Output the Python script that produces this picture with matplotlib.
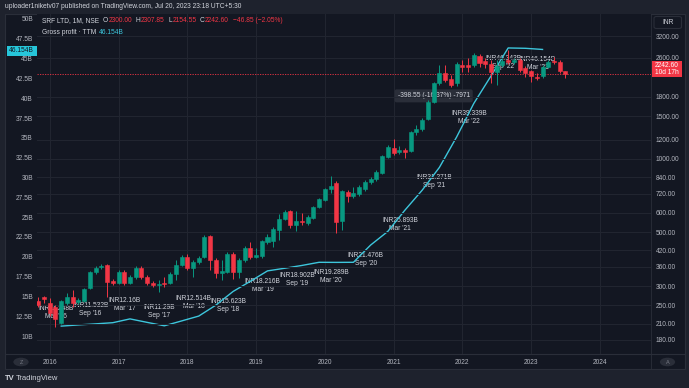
import numpy as np
import pandas as pd
import matplotlib
matplotlib.use('Agg')
import matplotlib.pyplot as plt
from matplotlib.patches import Rectangle, FancyBboxPatch, Circle
from matplotlib.ticker import FixedLocator, NullLocator
from matplotlib.lines import Line2D

plt.rcParams['font.family'] = ['Liberation Sans Narrow', 'Liberation Sans', 'DejaVu Sans']

# monthly candles, SRF LTD (NSE), Nov 2015 .. Jul 2023
months = pd.period_range('2015-11', '2023-07', freq='M')
opens = [261, 271, 256, 246, 211, 256, 270, 258, 261, 294, 342, 359, 366, 315, 309, 342,
         309, 327, 356, 327, 309, 303, 309, 309, 336, 366, 395, 356, 377, 395, 481, 384,
         339, 342, 406, 342, 384, 430, 395, 398, 455, 460, 510, 565, 610, 534, 555, 545,
         570, 634, 677, 751, 796, 555, 730, 703, 717, 751, 803, 826, 875, 1018, 1108, 1067,
         1087, 1077, 1289, 1326, 1457, 1714, 2049, 2255, 2129, 2049, 2431, 2431, 2431, 2648,
         2526, 2454, 2276, 2431, 2549, 2503, 2549, 2362, 2298, 2170, 2190, 2385, 2526, 2503,
         2300.00]
highs = [271, 273, 268, 251, 263, 281, 289, 268, 294, 346, 362, 369, 369, 321, 349, 349,
         333, 363, 363, 333, 315, 318, 327, 342, 384, 402, 406, 384, 398, 486, 486, 391,
         384, 414, 414, 391, 438, 455, 430, 464, 491, 525, 592, 616, 616, 610, 598, 587,
         640, 690, 758, 850, 810, 744, 744, 767, 781, 818, 842, 900, 1037, 1140, 1206, 1129,
         1108, 1301, 1377, 1471, 1746, 2069, 2431, 2431, 2211, 2503, 2549, 2597, 2723, 2698,
         2597, 2549, 2549, 2597, 2803, 2597, 2597, 2408, 2319, 2255, 2431, 2549, 2622, 2549,
         2307.85]
lows = [246, 256, 226, 203, 209, 251, 246, 253, 258, 292, 336, 352, 271, 303, 306, 303,
        306, 321, 321, 303, 298, 284, 298, 306, 318, 363, 349, 327, 369, 391, 349, 324,
        318, 339, 321, 324, 377, 388, 391, 391, 446, 434, 464, 560, 520, 505, 534, 534,
        565, 628, 670, 724, 495, 510, 664, 690, 703, 737, 788, 810, 866, 1008, 1037, 1047,
        1008, 1067, 1253, 1301, 1444, 1700, 2011, 2069, 1973, 1992, 2276, 2276, 2385, 2385,
        2362, 2049, 2011, 2385, 2454, 2454, 2276, 2170, 2069, 2109, 2150, 2362, 2454, 2255,
        2154.55]
closes = [251, 265, 233, 219, 261, 270, 256, 263, 292, 342, 356, 362, 312, 309, 342, 309,
          327, 356, 327, 309, 303, 306, 306, 336, 366, 395, 356, 377, 391, 477, 384, 339,
          346, 406, 342, 384, 430, 395, 402, 460, 477, 515, 565, 604, 534, 555, 550, 576,
          634, 683, 751, 774, 550, 737, 703, 724, 767, 803, 826, 883, 1027, 1118, 1057, 1087,
          1067, 1289, 1326, 1444, 1714, 2049, 2255, 2109, 2011, 2454, 2385, 2385, 2673, 2480,
          2454, 2276, 2408, 2526, 2503, 2549, 2319, 2255, 2190, 2150, 2385, 2503, 2503, 2289.45,
          2242.60]

# gross profit TTM (INR billions), quarterly
gp_dates = pd.date_range('2016-03-01', '2023-03-01', freq='3MS')
gp_values = [11.248, 11.40, 11.532, 11.68, 12.16, 11.72, 11.29, 11.90, 12.514, 13.90,
             15.623, 16.90, 18.216, 18.55, 18.902, 19.30, 19.289, 19.30, 21.476, 23.20,
             25.893, 28.40, 31.271, 35.10, 39.339, 42.80, 46.343, 46.30, 46.154]

year_labels = ['2016', '2017', '2018', '2019', '2020', '2021', '2022', '2023', '2024']
price_ticks = [180, 210, 250, 300, 360, 420, 500, 600, 720, 840, 1000, 1200, 1500, 1800, 2600, 3200]
gp_ticks = [10, 12.5, 15, 17.5, 20, 22.5, 25, 27.5, 30, 32.5, 35, 37.5, 40, 42.5, 45, 47.5, 50]

W, H = 689, 388
BG = '#1e222d'
PANEL = '#131722'
BORDER = '#2a2e39'
TXT = '#b2b5be'
UP = '#089981'
DOWN = '#f23645'
CYAN = '#3dc6dc'
GRID = '#222631'
FS = 4.8


def fx(x):
    return x / W


def fy(y):
    return 1 - y / H


def month_x(p):
    return (p.year - 2016) * 12 + (p.month - 1)


fig = plt.figure(figsize=(W / 100, H / 100), dpi=100, facecolor=BG)
renderer = fig.canvas.get_renderer()

# panel background
fig.add_artist(Rectangle((fx(4.5), fy(369)), fx(680), (369 - 13.5) / H, transform=fig.transFigure,
                         facecolor=PANEL, edgecolor=BORDER, lw=0.8, zorder=-2))

ax = fig.add_axes([fx(37), fy(354), fx(651 - 37), (354 - 13.5) / H])
ax.set_facecolor(PANEL)
axp = ax.twinx()

x_c = np.array([month_x(p) for p in months])
o = np.array(opens)
h = np.array(highs)
l = np.array(lows)
c = np.array(closes)
cols = np.where(c >= o, UP, DOWN)

axp.set_yscale('log')
axp.vlines(x_c, l, h, colors=cols, lw=0.7, zorder=3)
axp.bar(x_c, np.abs(c - o), bottom=np.minimum(o, c), width=0.7, color=cols, edgecolor=cols,
        linewidth=0.4, zorder=4)
axp.axhline(closes[-1], color=DOWN, ls=(0, (1.5, 1.5)), lw=0.6, zorder=2)

# gross profit line + labels
x_g = np.array([(d.year - 2016) * 12 + d.month - 1 for d in gp_dates])
ax.plot(x_g, gp_values, color=CYAN, lw=1.0, zorder=3)
for k in range(0, len(gp_values), 2):
    v = gp_values[k]
    s = ('%.3f' % v).rstrip('0')
    lab = 'INR%sB\n%s' % (s, gp_dates[k].strftime("%b '%y"))
    dy = 10.1 if k <= 8 else -10.4
    ax.annotate(lab, (x_g[k], v), xytext=(-3.6, dy), textcoords='offset points', ha='center',
                va='center', fontsize=FS, color='#d1d4dc', linespacing=1.2, zorder=2)

# measure box
ax.text(month_x(pd.Period('2021-07', 'M')) + 1.0, 40.3, '-398.55 (-16.37%) -7971',
        fontsize=FS, color='#d1d4dc', ha='center', va='center', zorder=1,
        bbox=dict(boxstyle='round,pad=0.45,rounding_size=0.3', fc='#2a2e39', ec='none'))

# limits
ax.set_xlim(-2.227, 104.93)
ax.set_ylim(7.73, 50.69)
axp.set_ylim(157.6, 3960)

# ticks
ax.set_xticks(range(0, 97, 12))
ax.set_xticklabels(year_labels)
ax.set_yticks(gp_ticks)
ax.set_yticklabels(['%gB' % v for v in gp_ticks])
axp.yaxis.set_major_locator(FixedLocator(price_ticks))
axp.yaxis.set_minor_locator(NullLocator())
axp.set_yticklabels(['%.2f' % v for v in price_ticks])
ax.tick_params(axis='x', length=0, pad=3.6, labelsize=FS, colors=TXT)
ax.tick_params(axis='y', length=0, pad=2.9, labelsize=FS, colors=TXT)
axp.tick_params(axis='y', length=0, pad=3.6, labelsize=FS, colors=TXT)
for lab in axp.get_yticklabels():
    lab.set_ha('left')

ax.grid(axis='x', color=GRID, lw=0.7)
axp.grid(axis='y', color=GRID, lw=0.7)
ax.set_axisbelow(True)
axp.set_axisbelow(True)
for a in (ax, axp):
    for sp in a.spines.values():
        sp.set_visible(False)

# separators
fig.add_artist(Line2D([fx(4.5), fx(684.5)], [fy(354), fy(354)], color=BORDER, lw=0.8))
fig.add_artist(Line2D([fx(651), fx(651)], [fy(13.5), fy(369)], color=BORDER, lw=0.6))

# header
fig.text(fx(5), fy(7), 'uploader1niketv07 published on TradingView.com, Jul 20, 2023 23:18 UTC+5:30',
         fontsize=FS, color='#d1d4dc', va='center')


def chain(x, y, parts):
    # draw text pieces one after another, starting at pixel x
    for t, cc, gap in parts:
        tt = fig.text(fx(x), fy(y), t, fontsize=FS, color=cc, va='center')
        x = tt.get_window_extent(renderer).x1 + gap
    return x


# legend
chg = closes[-1] - closes[-2]
pct = chg / closes[-2] * 100
parts = [('SRF LTD, 1M, NSE', '#d1d4dc', 4)]
for letter, val in (('O', opens[-1]), ('H', highs[-1]), ('L', lows[-1]), ('C', closes[-1])):
    parts += [(letter, '#d1d4dc', 0.5), ('%.2f' % val, DOWN, 3.5)]
parts.append((('%.2f (%.2f%%)' % (chg, pct)).replace('-', '\u2212'), DOWN, 0))
chain(41.7, 20.5, parts)
chain(41.7, 32, [('Gross profit \u00b7 TTM', '#d1d4dc', 3), ('%.3fB' % gp_values[-1], CYAN, 0)])

# left highlight
fig.add_artist(Rectangle((fx(6.5), fy(55.5)), fx(30), 9 / H, transform=fig.transFigure,
                         facecolor='#26c6da', edgecolor='none', zorder=5))
fig.text(fx(21.5), fy(51), '%.3fB' % gp_values[-1], fontsize=FS, color='#131722', ha='center',
         va='center', zorder=6)

# right price label
fig.add_artist(Rectangle((fx(651.5), fy(77)), fx(30.5), 16 / H, transform=fig.transFigure,
                         facecolor=DOWN, edgecolor='none', zorder=5))
fig.text(fx(666.7), fy(65.5), '%.2f' % closes[-1], fontsize=FS, color='white', ha='center',
         va='center', zorder=6)
fig.text(fx(666.7), fy(72.8), '10d 17h', fontsize=FS, color='white', ha='center', va='center', zorder=6)

# INR box
fig.add_artist(FancyBboxPatch((fx(654), fy(28.5)), fx(27.5), 12 / H, transform=fig.transFigure,
                              boxstyle='round,pad=0,rounding_size=0.004', facecolor=PANEL,
                              edgecolor=BORDER, lw=0.8, zorder=5))
fig.text(fx(667.7), fy(22.5), 'INR', fontsize=FS, color='#d1d4dc', ha='center', va='center', zorder=6)

# buttons
for bx, bt in ((21, 'Z'), (667.5, 'A')):
    fig.add_artist(Circle((fx(bx), fy(362)), 4.3 / H, transform=fig.transFigure,
                          facecolor='#2a2e39', edgecolor='none', zorder=5))
    fig.text(fx(bx), fy(362), bt, fontsize=4, color='#787b86', ha='center', va='center', zorder=6)

# logo
fig.text(fx(5), fy(379), 'TV', fontsize=5.5, color='#d1d4dc', fontweight='bold', va='center')
fig.text(fx(16), fy(379), 'TradingView', fontsize=5.5, color='#d1d4dc', va='center')

fig.savefig('out.png', dpi=100, facecolor=BG)
